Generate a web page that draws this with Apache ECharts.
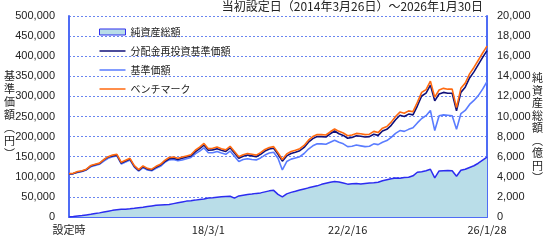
<!DOCTYPE html>
<html>
<head>
<meta charset="utf-8">
<script src="https://cdn.jsdelivr.net/npm/echarts@6/dist/echarts.min.js"></script>
<style>
html,body{margin:0;padding:0;background:#fff;}
#c{width:552px;height:241px;}
</style>
</head>
<body>
<div id="c"></div>
<script>
// x-axis tick labels (category index positions)
var tickLabels = ['設定時', '18/3/1', '22/2/16', '26/1/28'];
var tickIndex = [0, 32, 64, 96];

// ベンチマーク (円)
var benchmark = [108,109,113,115,119,128,131,134,143,150,154,156,136,141,146,128,118,127,121,119,
126,131,141,148,149,146,149,152,155,166,174,183,170,171,174,170,167,176,163,150,
155,158,156,154,160,168,173,175,160,143,157,163,166,170,178,191,200,205,205,204,
212,219,213,209,202,204,208,207,205,206,213,210,221,225,236,250,261,258,264,262,
285,310,317,338,298,316,320,318,318,272,320,333,356,372,390,408,425].map(function(v){return v*1000;});

// 分配金再投資基準価額 (円)
var reinvested = [107,108,112,114,118,127,130,133,142,149,152,154,134,139,144,126,116,125,119,117,
124,129,138,145,146,143,146,149,152,162,170,179,166,167,170,166,163,172,159,146,
151,154,152,150,156,164,169,171,156,139,152,158,161,165,173,186,195,200,200,199,
207,214,207,203,196,198,202,201,199,200,206,203,214,218,228,242,253,250,256,254,
276,301,308,328,289,306,310,308,308,264,310,323,346,361,379,397,414].map(function(v){return v*1000;});

// 基準価額 (円)
var nav = [107,108,111,113,117,125,128,131,139,146,150,152,132,137,142,124,114,123,117,115,
121,126,136,142,143,140,142,145,148,157,164,172,160,160,163,159,156,164,151,138,
143,145,143,142,147,154,159,161,146,117,138,144,147,150,158,169,177,182,182,181,
186,191,186,182,175,176,179,177,175,176,182,180,186,190,198,208,215,213,218,222,
234,245,252,265,215,252,254,253,252,218,257,265,280,290,302,318,337].map(function(v){return v*1000;});

// 純資産総額 (億円)
var netAssets = [0,40,100,150,210,270,340,410,500,580,660,720,770,780,820,870,930,980,1040,1100,
1160,1200,1220,1240,1330,1420,1500,1580,1620,1680,1750,1800,1880,1920,1970,2010,2040,2060,1880,2100,
2170,2230,2280,2350,2400,2500,2600,2650,2250,2000,2300,2450,2560,2680,2790,2900,3000,3100,3250,3350,
3450,3530,3480,3380,3270,3300,3330,3280,3330,3380,3400,3450,3600,3700,3800,3880,3850,3920,3950,4100,
4450,4500,4600,4750,3900,4580,4600,4620,4600,4050,4650,4750,4930,5100,5350,5650,5950];

var categories = benchmark.map(function(_, i){ return String(i); });

function comma(v){ return String(v).replace(/\B(?=(\d{3})+(?!\d))/g, ','); }

var AXIS = '#4f6cf5';
var GRID = '#6a86f0';
var TXT = '#222';
var LATIN = 'Liberation Sans, Arial, sans-serif';
var CJK = '"Noto Sans CJK JP", sans-serif';
var LINE_ICON = 'path://M0,0L0.01,0L0.01,0.01ZM0,2.2L26,2.2L26,3.8L0,3.8ZM25.99,5.99L26,6L25.99,6Z';

var chart = echarts.init(document.getElementById('c'), null, {renderer: 'canvas'});
chart.setOption({
  animation: false,
  backgroundColor: '#fff',
  grid: {left: 69, right: 65, top: 16, bottom: 24, containLabel: false},
  legend: {
    orient: 'vertical',
    left: 94, top: 22,
    itemWidth: 26, itemHeight: 6, itemGap: 9,
    symbolKeepAspect: false,
    textStyle: {fontFamily: CJK, fontSize: 10, color: TXT},
    data: [
      {name: '純資産総額', icon: 'rect', itemStyle: {color: '#b9dde8', borderColor: '#3030ee', borderWidth: 1}},
      {name: '分配金再投資基準価額', icon: LINE_ICON, itemStyle: {color: '#10107a', borderWidth: 0}},
      {name: '基準価額', icon: LINE_ICON, itemStyle: {color: '#5a7cff', borderWidth: 0}},
      {name: 'ベンチマーク', icon: LINE_ICON, itemStyle: {color: '#ff6a10', borderWidth: 0}}
    ]
  },
  graphic: [
    {type: 'text', right: 69, top: 0, style: {text: '当初設定日（2014年3月26日）～2026年1月30日', font: '12px "Noto Sans CJK JP", sans-serif', fill: TXT}},
    {type: 'text', left: 4, top: 69, style: {text: '基\n準\n価\n額\n︵\n円\n︶', font: '11px "Noto Sans CJK JP", sans-serif', lineHeight: 13, fill: TXT}},
    {type: 'text', left: 532, top: 72, style: {text: '純\n資\n産\n総\n額\n︵\n億\n円\n︶', font: '11px "Noto Sans CJK JP", sans-serif', lineHeight: 12.5, fill: TXT}}
  ],
  xAxis: {
    type: 'category',
    data: categories,
    boundaryGap: false,
    axisLine: {show: true, lineStyle: {color: AXIS, width: 2}},
    axisTick: {show: true, inside: true, length: 4, lineStyle: {color: AXIS},
      interval: function(i){ return tickIndex.indexOf(i) >= 0; }},
    axisLabel: {
      interval: function(i){ return tickIndex.indexOf(i) >= 0; },
      formatter: function(v, i){ var k = tickIndex.indexOf(Number(v)); return k >= 0 ? tickLabels[k] : ''; },
      margin: 7,
      fontFamily: CJK, fontSize: 11, color: TXT
    },
    splitLine: {show: false}
  },
  yAxis: [
    {
      type: 'value', min: 0, max: 500000, interval: 50000,
      axisLine: {show: true, lineStyle: {color: AXIS, width: 2}},
      axisTick: {show: false},
      axisLabel: {formatter: comma, margin: 14, fontFamily: LATIN, fontSize: 11, color: TXT},
      splitLine: {show: true, lineStyle: {color: GRID, type: [2, 2], width: 1}}
    },
    {
      type: 'value', min: 0, max: 20000, interval: 2000,
      axisLine: {show: true, lineStyle: {color: AXIS, width: 2}},
      axisTick: {show: false},
      axisLabel: {formatter: comma, margin: 10, fontFamily: LATIN, fontSize: 11, color: TXT},
      splitLine: {show: false}
    }
  ],
  series: [
    {name: '純資産総額', type: 'line', yAxisIndex: 1, data: netAssets, showSymbol: false, symbol: 'none',
      lineStyle: {color: '#2c2cf0', width: 1.5}, itemStyle: {color: '#2c2cf0'},
      areaStyle: {color: '#b9dde8', opacity: 1}, z: 1},
    {name: '基準価額', type: 'line', data: nav, showSymbol: false, symbol: 'none',
      lineStyle: {color: '#5a7cff', width: 1.6}, itemStyle: {color: '#5a7cff'}, z: 2},
    {name: '分配金再投資基準価額', type: 'line', data: reinvested, showSymbol: false, symbol: 'none',
      lineStyle: {color: '#10107a', width: 1.6}, itemStyle: {color: '#10107a'}, z: 3},
    {name: 'ベンチマーク', type: 'line', data: benchmark, showSymbol: false, symbol: 'none',
      lineStyle: {color: '#ff6a10', width: 1.6}, itemStyle: {color: '#ff6a10'}, z: 4}
  ]
});
</script>
</body>
</html>
